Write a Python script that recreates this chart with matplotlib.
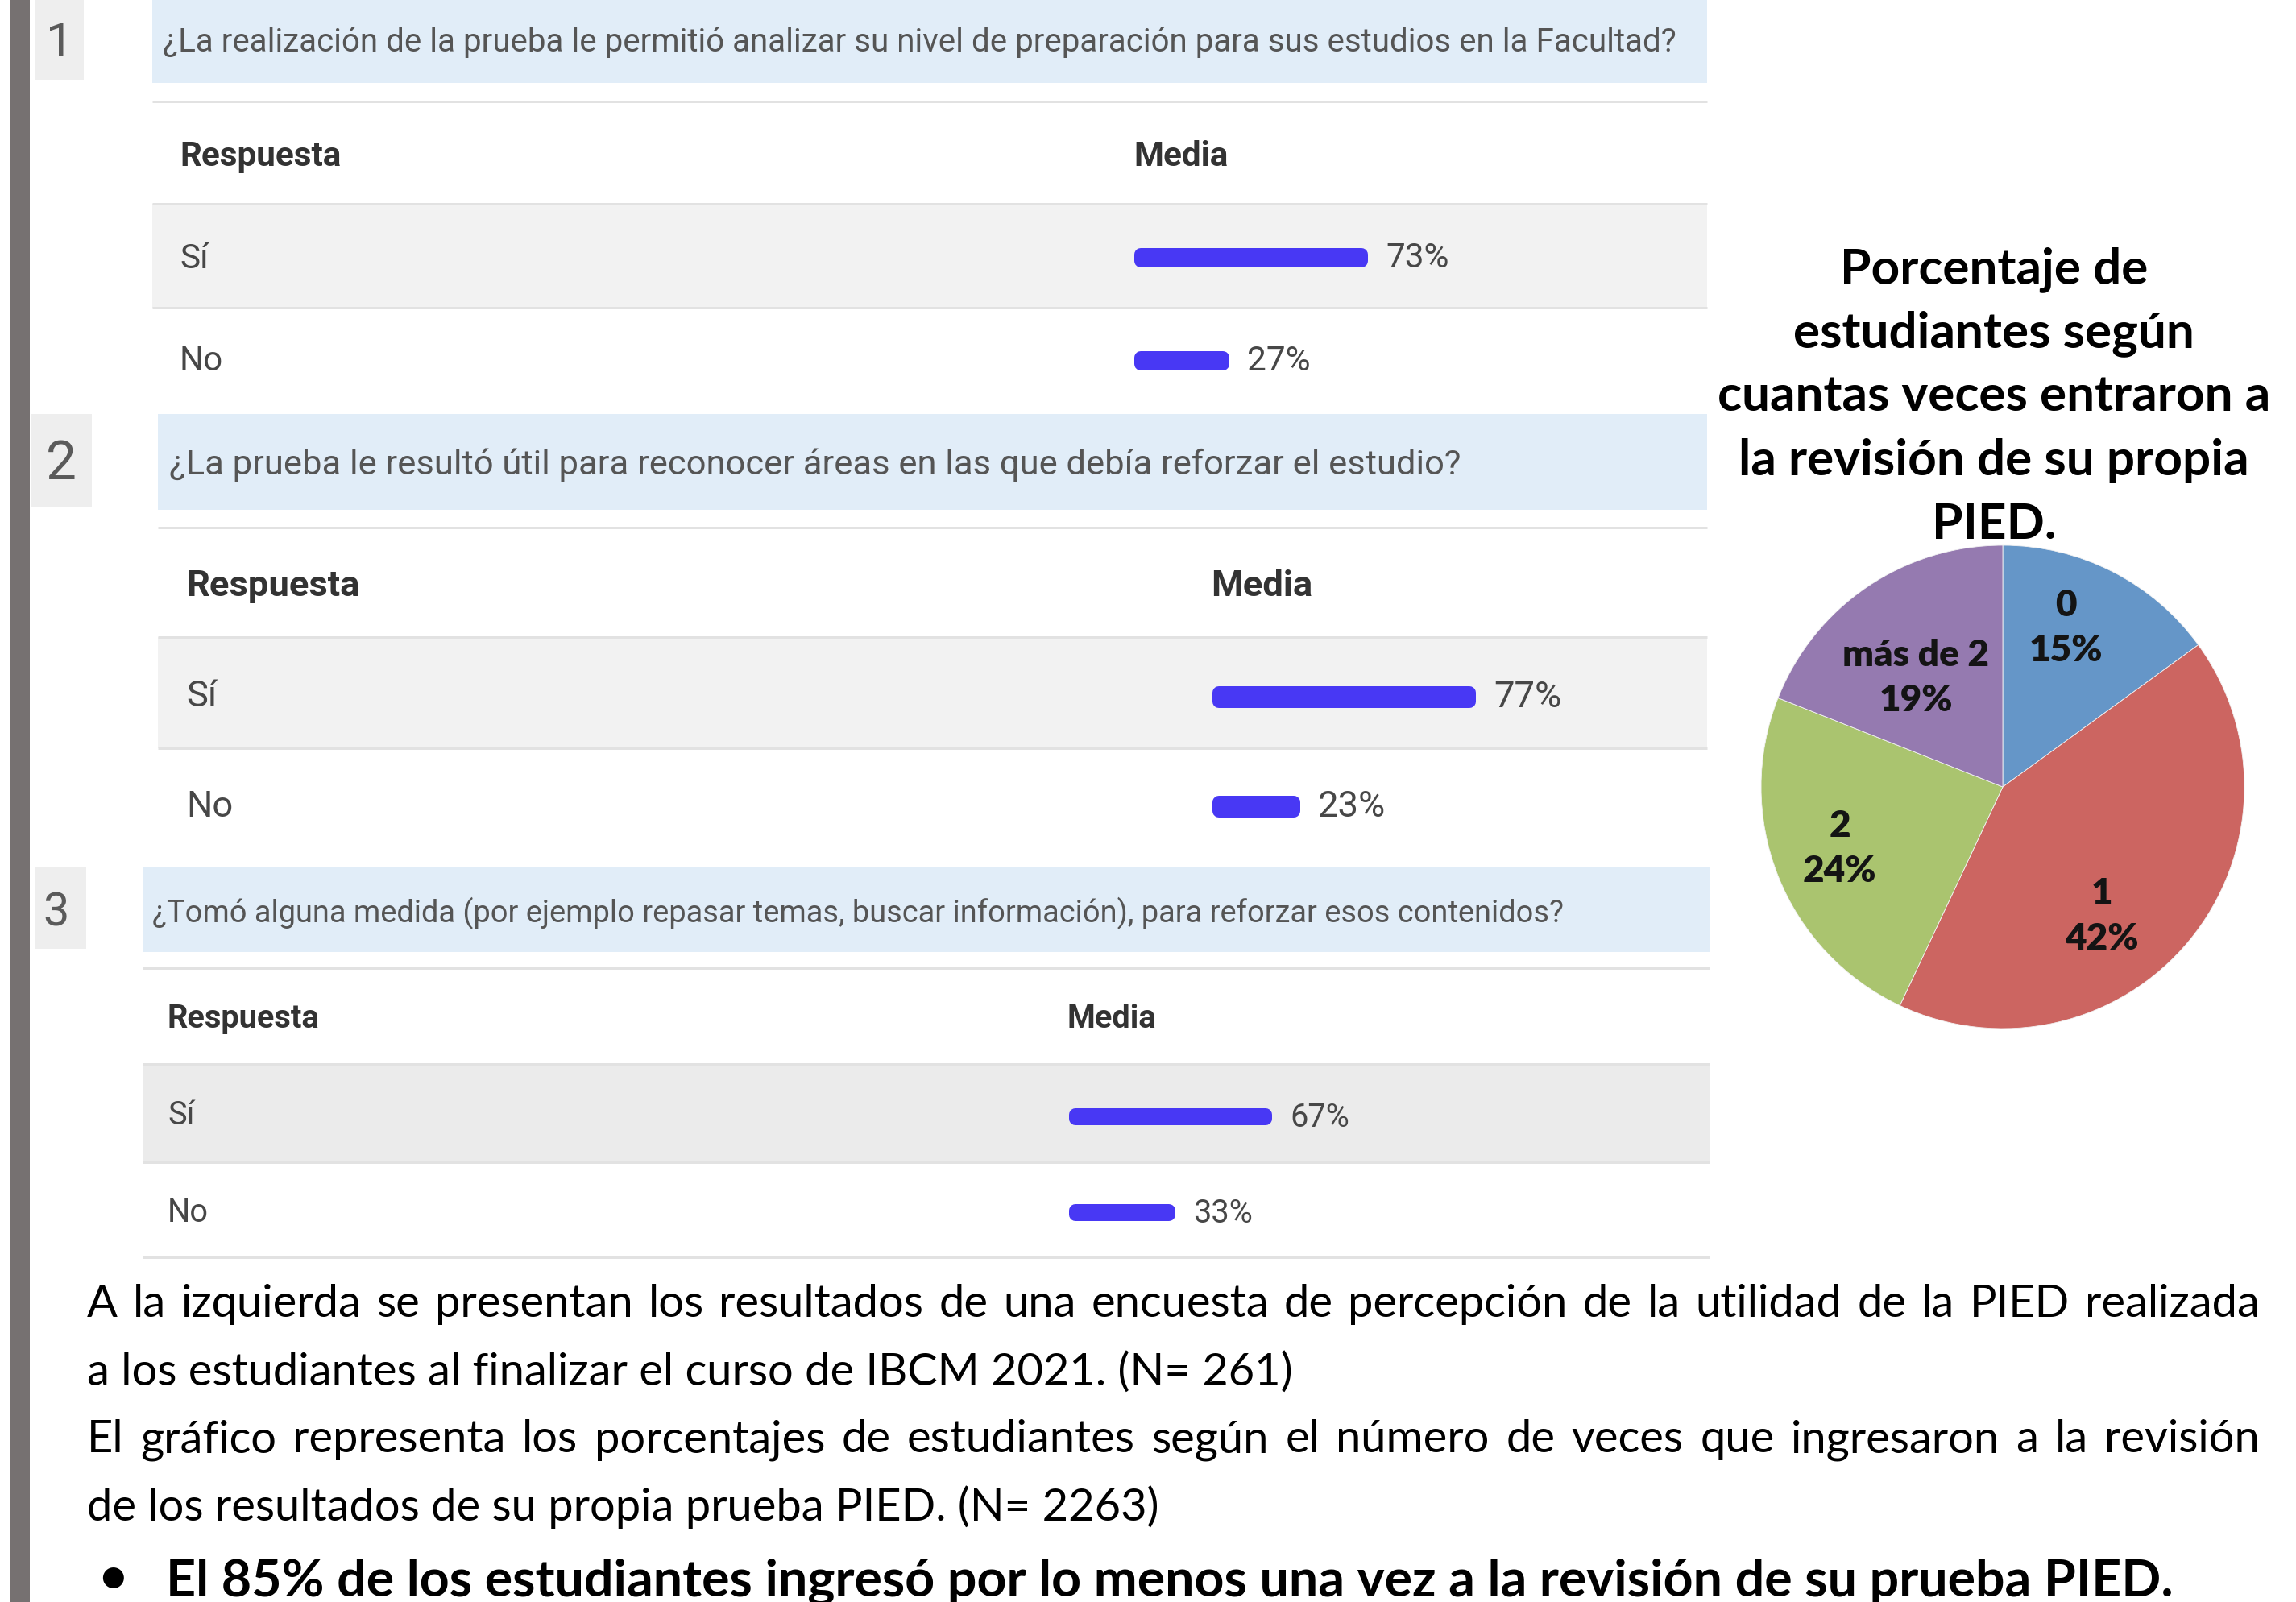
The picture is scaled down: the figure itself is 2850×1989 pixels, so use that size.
import matplotlib
matplotlib.use("Agg")
import matplotlib.pyplot as plt
from matplotlib.patches import Rectangle
import numpy as np

# ---------------- data ----------------
question_numbers = ["1", "2", "3"]
questions = [
    "¿La realización de la prueba le permitió analizar su nivel de preparación para sus estudios en la Facultad?",
    "¿La prueba le resultó útil para reconocer áreas en las que debía reforzar el estudio?",
    "¿Tomó alguna medida (por ejemplo repasar temas, buscar información), para reforzar esos contenidos?",
]
col_headers = ["Respuesta", "Media"]
answers = ["Sí", "No"]
q1_values = [73, 27]
q2_values = [77, 23]
q3_values = [67, 33]

pie_title = ["Porcentaje de", "estudiantes según", "cuantas veces entraron a",
             "la revisión de su propia", "PIED."]
pie_labels = ["0", "1", "2", "más de 2"]
pie_values = [15, 42, 24, 19]

body_lines = [
    "A la izquierda se presentan los resultados de una encuesta de percepción de la utilidad de la PIED realizada",
    "a los estudiantes al finalizar el curso de IBCM 2021. (N= 261)",
    "El gráfico representa los porcentajes de estudiantes según el número de veces que ingresaron a  la revisión",
    "de los resultados de su propia prueba PIED. (N= 2263)",
]
bullet_text = "El 85% de los estudiantes ingresó por lo menos una vez a la revisión de su prueba PIED."

# ---------------- layout / style ----------------
W, H, DPI = 2850, 1990, 100
UI_FONT = ["Roboto", "DejaVu Sans"]
DOC_FONT = ["Lato", "DejaVu Sans"]
BAR_COLOR = "#4838F4"
BAND_COLOR = "#E1EDF8"
LINE_COLOR = "#E2E2E2"
UI_TEXT = "#474747"

panels = [
    dict(values=q1_values, x0=189, x1=2119, band=(0, 104), box=(43.5, 104, 0, 100),
         num_xy=(74, 69.6), num_h=43, q_x=202, q_w=1875, q_base=63.6,
         lines=[127, 254, 383], grey=(254, 383), grey_c="#F2F2F2",
         hdr_base=206, resp_x=223, resp_w=200, media_x=1407,
         row_base=[333, 460], bar_x=1406, b=3.76, bar_c=[321, 448.5], bar_h=24),
    dict(values=q2_values, x0=196, x1=2119, band=(515, 634), box=(38.6, 113.6, 515, 630),
         num_xy=(76, 595), num_h=48, q_x=210, q_w=1595, q_base=589,
         lines=[656, 792, 930], grey=(792, 930), grey_c="#F2F2F2",
         hdr_base=740, resp_x=231.5, resp_w=215, media_x=1503,
         row_base=[877, 1014], bar_x=1503, b=4.04, bar_c=[866.5, 1002.5], bar_h=27),
    dict(values=q3_values, x0=177, x1=2122, band=(1077, 1183), box=(43.5, 106.6, 1077, 1179),
         num_xy=(70, 1150), num_h=41, q_x=189, q_w=1749, q_base=1145,
         lines=[1203, 1322, 1444, 1562], grey=(1322, 1444), grey_c="#EBEBEB",
         hdr_base=1276, resp_x=208, resp_w=188, media_x=1324.5,
         row_base=[1396, 1517], bar_x=1324.5, b=3.53, bar_c=[1387.5, 1506.5], bar_h=21),
]

fig = plt.figure(figsize=(W / DPI, H / DPI), dpi=DPI)
fig.patch.set_facecolor("white")
renderer = fig.canvas.get_renderer()

bg = fig.add_axes([0, 0, 1, 1])
bg.set_xlim(0, W)
bg.set_ylim(H, 0)
bg.axis("off")


def px_axes(x, y, w, h):
    return fig.add_axes([x / W, 1 - (y + h) / H, w / W, h / H])


def fit_width(t, width):
    bb = t.get_window_extent(renderer=renderer)
    t.set_fontsize(t.get_fontsize() * width / bb.width)
    return t


def pt(px):
    return px * 72.0 / DPI


# left grey strip
bg.add_patch(Rectangle((12.6, 0), 24, H, color="#767171", lw=0))

for i, p in enumerate(panels):
    # question band
    bg.add_patch(Rectangle((p["x0"], p["band"][0]), p["x1"] - p["x0"],
                           p["band"][1] - p["band"][0], color=BAND_COLOR, lw=0))
    # number box
    bx0, bx1, by0, by1 = p["box"]
    bg.add_patch(Rectangle((bx0, by0), bx1 - bx0, by1 - by0, color="#EEEEEE", lw=0))
    bg.text(p["num_xy"][0], p["num_xy"][1], question_numbers[i], ha="center",
            va="baseline", family=UI_FONT, fontweight="normal", color="#5a5a5a",
            fontsize=pt(p["num_h"] / 0.711))
    # question text
    t = bg.text(p["q_x"], p["q_base"], questions[i], ha="left", va="baseline",
                family=UI_FONT, color="#555555", fontsize=20)
    fit_width(t, p["q_w"])
    # grey row
    bg.add_patch(Rectangle((p["x0"], p["grey"][0]), p["x1"] - p["x0"],
                           p["grey"][1] - p["grey"][0], color=p["grey_c"], lw=0))
    for ly in p["lines"]:
        bg.plot([p["x0"], p["x1"]], [ly, ly], color=LINE_COLOR, lw=pt(3),
                solid_capstyle="butt")
    # headers
    th = bg.text(p["resp_x"], p["hdr_base"], col_headers[0], ha="left", va="baseline",
                 family=UI_FONT, fontweight="bold", color="#333333", fontsize=20)
    fit_width(th, p["resp_w"])
    fs = th.get_fontsize()
    bg.text(p["media_x"], p["hdr_base"], col_headers[1], ha="left", va="baseline",
            family=UI_FONT, fontweight="bold", color="#333333", fontsize=fs)
    for j, a in enumerate(answers):
        bg.text(p["resp_x"], p["row_base"][j], a, ha="left", va="baseline",
                family=UI_FONT, color=UI_TEXT, fontsize=fs)

    # bars through their own axes
    e = 16  # rounded edge width (px)
    zero = p["bar_x"] + 10
    d = p["bar_c"][1] - p["bar_c"][0]
    ax = px_axes(zero, p["bar_c"][0] - d / 2, 100 * p["b"], 2 * d)
    ax.set_xlim(0, 100)
    ax.set_ylim(1.5, -0.5)
    ax.axis("off")
    ax.patch.set_visible(False)
    ypos = np.arange(len(answers))
    bars = ax.barh(ypos, p["values"], height=(p["bar_h"] - e) / d, color=BAR_COLOR,
                   edgecolor=BAR_COLOR, linewidth=pt(e), joinstyle="round")
    for bar in bars:
        bar.set_clip_on(False)
    for j, v in enumerate(p["values"]):
        ax.annotate(f"{v}%", xy=(v, ypos[j]), xytext=(pt(30), 0),
                    textcoords="offset points", ha="left", va="center",
                    family=UI_FONT, color=UI_TEXT, fontsize=fs, annotation_clip=False)

# ---------------- pie ----------------
cx, cy, R = 2486, 978, 300
pax = px_axes(cx - R, cy - R, 2 * R, 2 * R)
pie_colors = ["#6596C8", "#CC6561", "#AAC46F", "#957AB0"]
wedges, _ = pax.pie(pie_values, colors=pie_colors, startangle=90, counterclock=False,
                    radius=1, wedgeprops=dict(linewidth=0.6, edgecolor="#f2f2f2"))
pax.set_xlim(-1, 1)
pax.set_ylim(-1, 1)
pax.set_aspect("equal")
pax.axis("off")

label_r = [0.71, 0.67, 0.72, 0.58]
label_dtheta = [5.5, -12.8, -1.1, 4.0]
for k, w in enumerate(wedges):
    th = np.deg2rad((w.theta1 + w.theta2) / 2 + label_dtheta[k])
    lx, ly = label_r[k] * np.cos(th), label_r[k] * np.sin(th)
    pax.annotate(pie_labels[k], xy=(lx, ly), xytext=(0, pt(28)),
                 textcoords="offset points", ha="center", va="center",
                 family=DOC_FONT, fontweight="heavy", color="#141414", fontsize=33)
    pax.annotate(f"{pie_values[k]}%", xy=(lx, ly), xytext=(0, -pt(28)),
                 textcoords="offset points", ha="center", va="center",
                 family=DOC_FONT, fontweight="heavy", color="#141414", fontsize=33)

# title
title_base = [352, 431, 510, 590, 669]
ref = bg.text(2475, title_base[2], pie_title[2], ha="center", va="baseline",
              family=DOC_FONT, fontweight="bold", color="black", fontsize=40)
fit_width(ref, 686)
tfs = ref.get_fontsize()
for k, line in enumerate(pie_title):
    if k == 2:
        continue
    bg.text(2475, title_base[k], line, ha="center", va="baseline",
            family=DOC_FONT, fontweight="bold", color="black", fontsize=tfs)

# ---------------- body text ----------------
body_base = [1635, 1720, 1803, 1888]
bx0, bx1 = 108, 2805
t2 = bg.text(bx0, body_base[1], body_lines[1], ha="left", va="baseline",
             family=DOC_FONT, color="black", fontsize=40)
fit_width(t2, 1602 - 108)
bfs = t2.get_fontsize()
bg.text(bx0, body_base[3], body_lines[3], ha="left", va="baseline",
        family=DOC_FONT, color="black", fontsize=bfs)


def justify(line, y):
    words = line.split()
    texts = [bg.text(0, y, wd, ha="left", va="baseline", family=DOC_FONT,
                     color="black", fontsize=bfs) for wd in words]
    widths = [t.get_window_extent(renderer=renderer).width for t in texts]
    gap = (bx1 - bx0 - sum(widths)) / (len(words) - 1)
    x = bx0
    for t, wdt in zip(texts, widths):
        t.set_x(x)
        x += wdt + gap


justify(body_lines[0], body_base[0])
justify(body_lines[2], body_base[2])

bg.text(140, 1958, "●", ha="center", va="center", family=["DejaVu Sans"],
        color="black", fontsize=pt(34))
tb = bg.text(206, 1981, bullet_text, ha="left", va="baseline", family=DOC_FONT,
             fontweight="bold", color="black", fontsize=40)
fit_width(tb, 2697 - 206)

fig.savefig("out.png", dpi=DPI, facecolor="white")
